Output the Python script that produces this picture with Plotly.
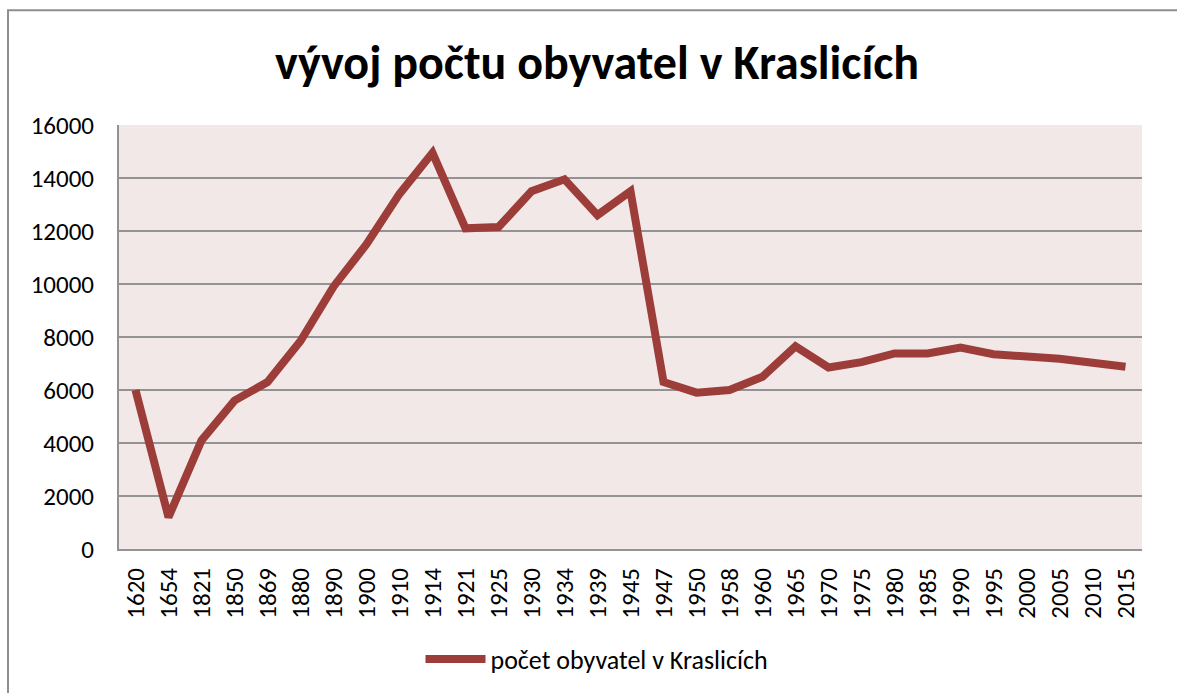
import plotly.graph_objects as go

# Census years (categorical axis) and population of Kraslice
years = ["1620", "1654", "1821", "1850", "1869", "1880", "1890", "1900", "1910",
         "1914", "1921", "1925", "1930", "1934", "1939", "1945", "1947", "1950",
         "1958", "1960", "1965", "1970", "1975", "1980", "1985", "1990", "1995",
         "2000", "2005", "2010", "2015"]
population = [6000, 1200, 4100, 5600, 6300, 7850, 9900, 11500, 13400,
              14950, 12100, 12150, 13500, 13950, 12600, 13500, 6300, 5900,
              6000, 6500, 7650, 6850, 7050, 7380, 7380, 7600, 7350,
              7270, 7180, 7030, 6880]
y_ticks = [0, 2000, 4000, 6000, 8000, 10000, 12000, 14000, 16000]
y_tick_text = [str(v) for v in y_ticks]

W, H = 1177, 693
ML, MR, MT, MB = 119, W - 1142, 125, H - 550
FONT = "Calibri, Carlito, Lato, sans-serif"
GRID = "#939393"

fig = go.Figure()
fig.add_trace(go.Scatter(
    x=years, y=population, mode="lines",
    name="počet obyvatel v Kraslicích",
    line=dict(color="#9C3D3A", width=8),
))

# outer chart frame, expressed in paper coordinates
pw, ph = W - ML - MR, H - MT - MB
def px_x(v):
    return (v - ML) / pw
def px_y(v):
    return 1 - (v - MT) / ph

fig.add_shape(type="rect", xref="paper", yref="paper",
              x0=px_x(8), x1=px_x(1200), y0=px_y(10), y1=px_y(720),
              line=dict(color="#8E8E8E", width=2), layer="below")

fig.update_layout(
    width=W, height=H,
    margin=dict(l=ML, r=MR, t=MT, b=MB),
    paper_bgcolor="white",
    plot_bgcolor="#F3E8E8",
    font=dict(family=FONT, color="black"),
    title=dict(text="<b>vývoj počtu obyvatel v Kraslicích</b>",
               font=dict(family=FONT, size=48, color="black"),
               x=597 / W, xanchor="center", xref="container",
               y=1 - 62 / H, yanchor="middle", yref="container"),
    showlegend=True,
    legend=dict(orientation="h", x=px_x(597), xanchor="center",
                y=px_y(659), yanchor="middle",
                font=dict(family=FONT, size=26, color="black"),
                itemwidth=60, bgcolor="rgba(0,0,0,0)"),
    xaxis=dict(type="category", range=[-0.5, len(years) - 0.5],
               tickangle=-90, tickfont=dict(size=25, family=FONT),
               showgrid=False, showline=True, linecolor=GRID, linewidth=2,
               ticks="", ticklabelstandoff=7, zeroline=False),
    yaxis=dict(range=[0, 16000], tickvals=y_ticks, ticktext=y_tick_text,
               tickfont=dict(size=25, family=FONT),
               showgrid=True, gridcolor=GRID, gridwidth=1.5,
               showline=True, linecolor=GRID, linewidth=2,
               ticks="", ticklabelstandoff=18, zeroline=False),
)

fig.write_html("out.html")
